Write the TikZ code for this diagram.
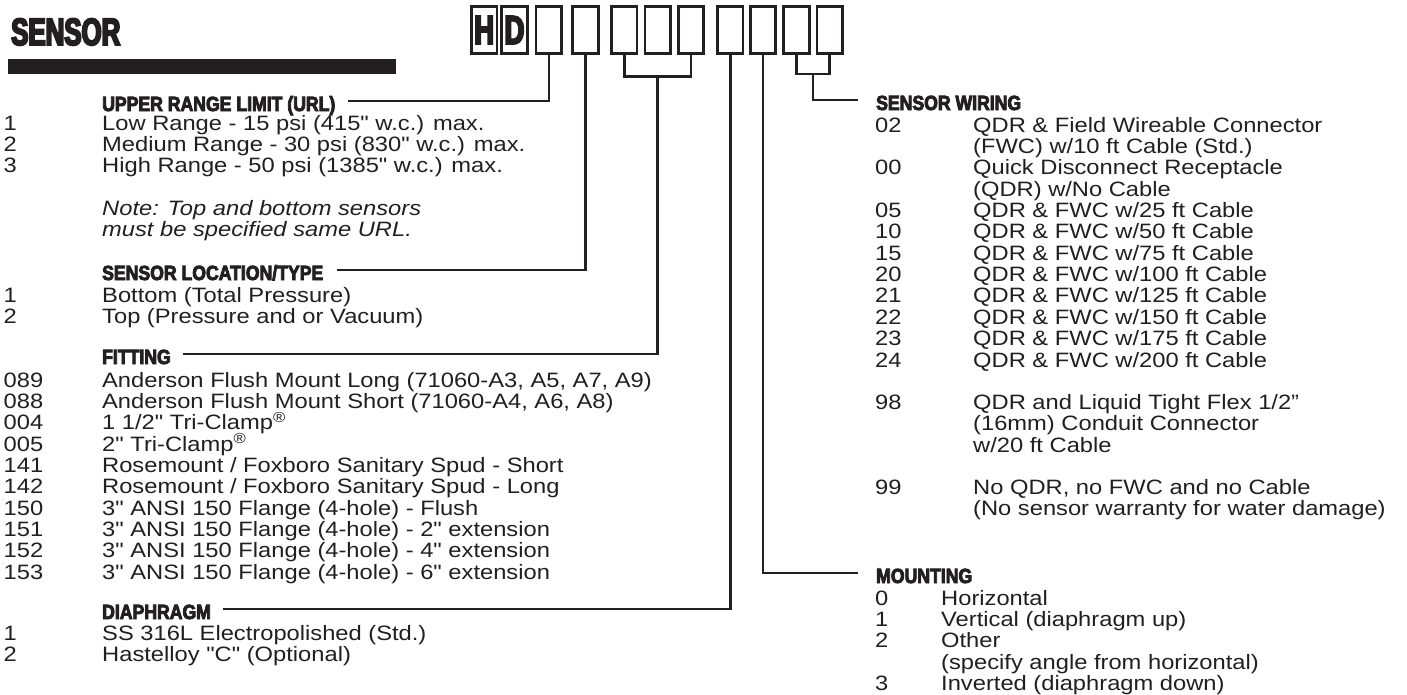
\documentclass[tikz,border=0pt]{standalone}
\usepackage{fontspec}
\usepackage{array}
\setmainfont{Liberation Sans}
\newfontfamily\bodyfont[FakeStretch=1.14]{Liberation Sans}
\newfontfamily\headfont[FakeStretch=0.86,FakeBold=4]{Liberation Sans}
\newfontfamily\titlefont[FakeStretch=0.68,FakeBold=5]{Liberation Sans}
\usetikzlibrary{calc}
\definecolor{inkgray}{HTML}{231F20}
\newcommand{\regmark}{\smash{\textsuperscript{®}}}

\begin{document}
\begin{tikzpicture}[
  x=1pt, y=-1pt,
  every node/.style={text=inkgray},
  codebox/.style={draw=inkgray, line width=2.6pt,
                  minimum width=25.5pt, minimum height=46.5pt, inner sep=0pt},
  letter/.style={font=\titlefont\bfseries\fontsize{40}{40}\selectfont},
  head/.style={font=\headfont\bfseries\fontsize{20.5}{21}\selectfont,
               anchor=base west, inner sep=0pt,
               text height=20pt, text depth=0pt},
  list/.style={font=\bodyfont\fontsize{20.8}{21}\selectfont,
               anchor=base west, inner sep=0pt},
  conn/.style={draw=inkgray, line width=2.6pt}
]
\path[fill=white, use as bounding box] (0,0) rectangle (1407,694);

%% Title
\node[font=\titlefont\bfseries\fontsize{38}{38}\selectfont,
      anchor=base west, inner sep=0pt] (title) at (11,45) {SENSOR};
\node[fill=inkgray, minimum width=388pt, minimum height=15pt,
      inner sep=0pt, anchor=north west] (bar) at (8,58.3) {};

%% Model code boxes
\node[codebox, letter] (bH) at (484.2,30) {H};
\node[codebox, letter] (bD) at (514.5,30) {D};
\node[codebox] (b3)  at (548.9,30) {};
\node[codebox] (b4)  at (585.5,30) {};
\node[codebox] (b5)  at (624.2,30) {};
\node[codebox] (b6)  at (657.6,30) {};
\node[codebox] (b7)  at (691.0,30) {};
\node[codebox] (b8)  at (730.2,30) {};
\node[codebox] (b9)  at (763.0,30) {};
\node[codebox] (b10) at (796.5,30) {};
\node[codebox] (b11) at (829.7,30) {};

%% Left column headers
\node[head] (url) at (102,111) {UPPER RANGE LIMIT (URL)};
\node[head] (loc) at (102,280) {SENSOR LOCATION/TYPE};
\node[head] (fit) at (102,364) {FITTING};
\node[head] (dia) at (102,619) {DIAPHRAGM};

%% Right column headers
\node[head] (wir) at (876,110) {SENSOR WIRING};
\node[head] (mnt) at (876,583) {MOUNTING};

%% Upper range limit
\node[list] (urllist) at (3.5,130)
  {\begin{tabular}[t]{@{}p{98.5pt}@{}l@{}}
   1 & Low Range - 15 psi (415" w.c.) max.\\
   2 & Medium Range - 30 psi (830" w.c.) max.\\
   3 & High Range - 50 psi (1385" w.c.) max.\\[21pt]
     & \textit{Note: Top and bottom sensors}\\
     & \textit{must be specified same URL.}
   \end{tabular}};

%% Sensor location
\node[list] (loclist) at (3.5,302)
  {\begin{tabular}[t]{@{}p{98.5pt}@{}l@{}}
   1 & Bottom (Total Pressure)\\
   2 & Top (Pressure and or Vacuum)
   \end{tabular}};

%% Fitting
\node[list] (fitlist) at (3.5,387)
  {\begin{tabular}[t]{@{}p{98.5pt}@{}l@{}}
   089 & Anderson Flush Mount Long (71060-A3, A5, A7, A9)\\
   088 & Anderson Flush Mount Short (71060-A4, A6, A8)\\
   004 & 1 1/2" Tri-Clamp\regmark\\
   005 & 2" Tri-Clamp\regmark\\
   141 & Rosemount / Foxboro Sanitary Spud - Short\\
   142 & Rosemount / Foxboro Sanitary Spud - Long\\
   150 & 3" ANSI 150 Flange (4-hole) - Flush\\
   151 & 3" ANSI 150 Flange (4-hole) - 2" extension\\
   152 & 3" ANSI 150 Flange (4-hole) - 4" extension\\
   153 & 3" ANSI 150 Flange (4-hole) - 6" extension
   \end{tabular}};

%% Diaphragm
\node[list] (dialist) at (3.5,640)
  {\begin{tabular}[t]{@{}p{98.5pt}@{}l@{}}
   1 & SS 316L Electropolished (Std.)\\
   2 & Hastelloy "C" (Optional)
   \end{tabular}};

%% Sensor wiring
\node[list] (wirlist) at (875,132)
  {\begin{tabular}[t]{@{}p{98pt}@{}l@{}}
   02 & QDR \& Field Wireable Connector\\
      & (FWC) w/10 ft Cable (Std.)\\
   00 & Quick Disconnect Receptacle\\
      & (QDR) w/No Cable\\
   05 & QDR \& FWC w/25 ft Cable\\
   10 & QDR \& FWC w/50 ft Cable\\
   15 & QDR \& FWC w/75 ft Cable\\
   20 & QDR \& FWC w/100 ft Cable\\
   21 & QDR \& FWC w/125 ft Cable\\
   22 & QDR \& FWC w/150 ft Cable\\
   23 & QDR \& FWC w/175 ft Cable\\
   24 & QDR \& FWC w/200 ft Cable\\[21pt]
   98 & QDR and Liquid Tight Flex 1/2”\\
      & (16mm) Conduit Connector\\
      & w/20 ft Cable\\[21pt]
   99 & No QDR, no FWC and no Cable\\
      & (No sensor warranty for water damage)
   \end{tabular}};

%% Mounting
\node[list] (mntlist) at (875,605)
  {\begin{tabular}[t]{@{}p{66pt}@{}l@{}}
   0 & Horizontal\\
   1 & Vertical (diaphragm up)\\
   2 & Other\\
     & (specify angle from horizontal)\\
   3 & Inverted (diaphragm down)
   \end{tabular}};

%% Connectors
\coordinate (fitbr) at ($(b5.south)!0.5!(b7.south)+(0,22)$);
\coordinate (wirbr) at ($(b10.south)!0.5!(b11.south)+(0,19.5)$);

\draw[conn] (b3.south) |- ([xshift=12pt]url.east);
\draw[conn] (b4.south) |- ([xshift=14pt]loc.east);
\draw[conn] (b5.south) |- (fitbr) -| (b7.south);
\draw[conn] (fitbr) |- ([xshift=12pt]fit.east);
\draw[conn] (b8.south) |- ([xshift=12pt]dia.east);
\draw[conn] (b9.south) |- ([xshift=-18pt]mnt.west);
\draw[conn] (b10.south) |- (wirbr) -| (b11.south);
\draw[conn] (wirbr) |- ([xshift=-18pt]wir.west);

\end{tikzpicture}
\end{document}
